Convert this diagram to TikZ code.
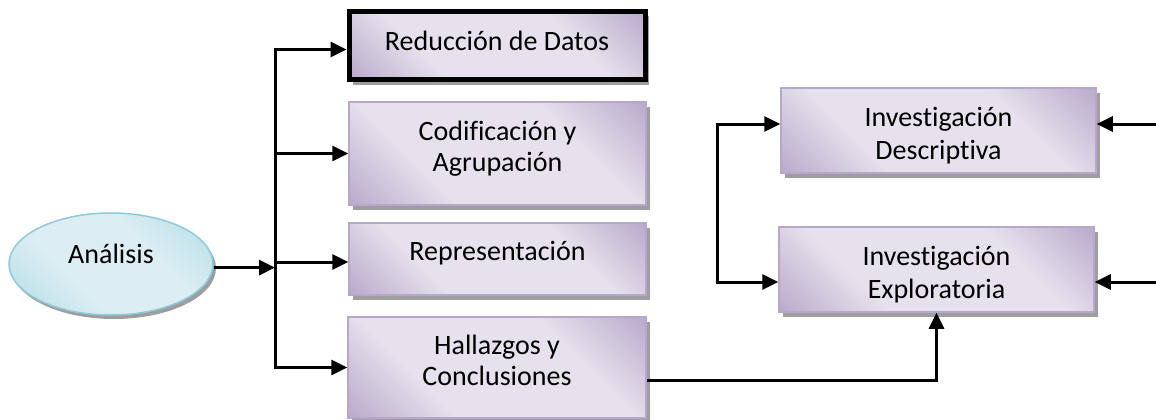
\documentclass[tikz,border=0pt]{standalone}
\usepackage{fontspec}
\setmainfont{Carlito}[Ligatures={NoCommon}]
\usetikzlibrary{arrows.meta,shadows,shapes.geometric}
\definecolor{pdark}{HTML}{B3A2C7}
\definecolor{plight}{HTML}{E6E1EC}
\definecolor{pline}{HTML}{B7A7CB}
\definecolor{bdark}{HTML}{B2DBE6}
\definecolor{blight}{HTML}{DCEEF3}
\definecolor{bline}{HTML}{8FCADA}
\definecolor{shad}{HTML}{9E9E9E}
\pgfdeclareverticalshading{pshade}{100bp}{color(0bp)=(pdark); color(12bp)=(pdark); color(34bp)=(plight); color(66bp)=(plight); color(88bp)=(pdark); color(100bp)=(pdark)}
\pgfdeclareverticalshading{bshade}{100bp}{color(0bp)=(bdark); color(14bp)=(bdark); color(38bp)=(blight); color(62bp)=(blight); color(86bp)=(bdark); color(100bp)=(bdark)}
\newcommand{\tx}[2]{\raisebox{#1}[\height][\depth]{\begin{tabular}{@{}c@{}}#2\end{tabular}}}
\begin{document}
\begin{tikzpicture}[x=1pt,y=-1pt,
  txt/.style={font=\fontsize{28}{31}\selectfont, inner sep=0pt, text=black},
  box/.style={txt, rectangle, draw=pline, line width=1.5pt,
    shading=pshade, shading angle=-45,
    drop shadow={shadow xshift=4pt, shadow yshift=-5pt, fill=shad, opacity=1}},
  rbox/.style={box, font=\fontsize{28}{33}\selectfont},
  oval/.style={txt, ellipse, draw=bline, line width=1.5pt,
    shading=bshade, shading angle=-45,
    drop shadow={shadow xshift=3pt, shadow yshift=-4pt, fill=shad, opacity=1}},
  arr/.style={line width=3pt, -{Triangle[length=16pt,width=15pt]}},
  arrboth/.style={line width=3pt, {Triangle[length=16pt,width=15pt]}-{Triangle[length=16pt,width=15pt]}},
  ln/.style={line width=3pt}
]
\useasboundingbox (0,0) rectangle (1156,420);

\node[oval, minimum width=204pt, minimum height=102pt] (an) at (111,264) {\tx{7pt}{Análisis}};

\node[box, draw=black, line width=5pt, minimum width=296pt, minimum height=68pt] (b1) at (497,45.5) {\tx{1pt}{Reducción de Datos}};
\node[box, minimum width=297pt, minimum height=103pt] (b2) at (497.5,153.5) {\tx{4pt}{Codificación y\\Agrupación}};
\node[box, minimum width=297pt, minimum height=72pt] (b3) at (497.5,259) {\tx{5pt}{Representación}};
\node[box, minimum width=298pt, minimum height=101pt] (b4) at (497,367.5) {\tx{3.5pt}{Hallazgos y\\Conclusiones}};

\node[rbox, minimum width=315pt, minimum height=85pt] (d) at (938.5,130.5) {\tx{-6pt}{Investigación\\Descriptiva}};
\node[rbox, minimum width=315pt, minimum height=85pt] (e) at (936.5,269.5) {\tx{-5.5pt}{Investigación\\Exploratoria}};

\coordinate (t) at (275,0);
\coordinate (t2) at (717,0);
\coordinate (r) at (1158,0);
\coordinate (h) at (0,380);
\coordinate (b1w) at ([yshift=-4pt]b1.west);
\coordinate (b3w) at ([yshift=-3pt]b3.west);
\coordinate (dw) at ([yshift=6.5pt]d.west);
\coordinate (de) at ([yshift=6.5pt]d.east);
\coordinate (ew) at ([yshift=-12.5pt]e.west);
\coordinate (ee) at ([yshift=-12.5pt]e.east);

% left trunk
\draw[ln, line cap=rect] (t |- b1w) -- (t |- b4.west);
\draw[arr] (an.-2.3) -- (an.-2.3 -| t);
\draw[arr] (t |- b1w) -- (b1w);
\draw[arr] (t |- b2.west) -- (b2.west);
\draw[arr] (t |- b3w) -- (b3w);
\draw[arr] (t |- b4.west) -- (b4.west);

% right side
\draw[arrboth, line join=miter] (dw) -- (t2 |- dw) -- (t2 |- ew) -- (ew);
\draw[arr] (r |- de) -- (de);
\draw[arr] (r |- ee) -- (ee);
\draw[arr, line join=miter] (b4.east |- h) -| (e.south);
\end{tikzpicture}
\end{document}
